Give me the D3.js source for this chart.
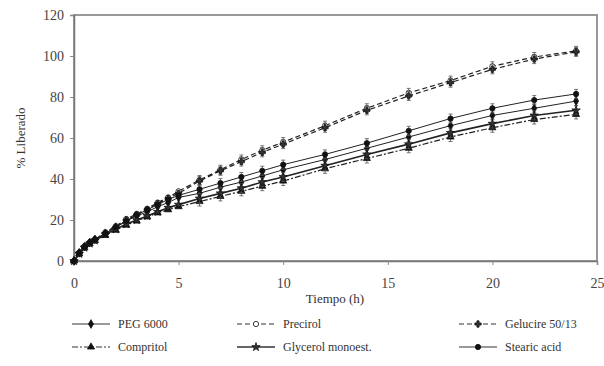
<!DOCTYPE html>
<html>
<head>
<meta charset="utf-8">
<script src="https://cdn.jsdelivr.net/npm/d3@7"></script>
<style>
  body { margin: 0; background: #fff; }
  svg { display: block; font-family: "Liberation Serif", "DejaVu Serif", serif; }
</style>
</head>
<body>
<svg id="chart" width="604" height="366"></svg>
<script>
// sampling times (h)
const times = [0, 0.25, 0.5, 0.75, 1, 1.5, 2, 2.5, 3, 3.5, 4, 4.5, 5, 6, 7, 8, 9, 10, 12, 14, 16, 18, 20, 22, 24];

// % released
const peg6000   = [0, 4, 7, 9, 10.5, 13.5, 16.5, 19.5, 22, 24, 26.5, 28.5, 31, 33, 36, 38.5, 41.5, 44.5, 49.5, 55, 60.5, 66, 71, 74.5, 78];
const precirol  = [0, 4, 7, 9, 10.5, 14, 17, 20.5, 23, 25.5, 28.5, 31, 34, 39.5, 44.5, 49.5, 54, 58, 66, 74.5, 82, 88, 95, 99.5, 102.5];
const gelucire  = [0, 4, 7, 9, 10.5, 13.5, 16.5, 20, 22.5, 25, 28, 30.5, 33, 39, 44, 48.5, 53, 57, 65, 73.5, 80.5, 87, 93.5, 98.5, 102];
const compritol = [0, 3.5, 6.5, 8.5, 10, 12.5, 15, 17.5, 19.5, 21.5, 23.5, 25, 26.5, 29, 31.5, 34, 36.5, 39, 45, 50, 55, 60.5, 65, 69, 71.5];
const glycerol  = [0, 3.5, 6.5, 8.5, 10, 13, 15.5, 18, 20, 22, 24, 26, 27.5, 30.5, 33, 35.5, 38.5, 41, 46.5, 52, 57, 62.5, 67, 71, 73.5];
const stearic   = [0, 4, 7, 9, 10.5, 13.5, 16.5, 19.5, 22.5, 25, 27.5, 30, 32, 35, 38, 41, 44, 47, 52, 57.5, 63.5, 69.5, 74.5, 78.5, 81.5];

const seriesNames = ["PEG 6000", "Precirol", "Gelucire 50/13", "Compritol", "Glycerol monoest.", "Stearic acid"];
const seriesValues = [peg6000, precirol, gelucire, compritol, glycerol, stearic];
const xTicks = [0, 5, 10, 15, 20, 25];
const yTicks = [0, 20, 40, 60, 80, 100, 120];

// line / marker styling per series
const styles = [
  { dash: null, width: 1, marker: d3.symbolDiamond, fill: "#111" },
  { dash: "5,3", width: 1.2, marker: d3.symbolCircle, fill: "#fff" },
  { dash: "5,3", width: 1.2, marker: d3.symbolCross, fill: "#333" },
  { dash: "6,2,2,2", width: 1.2, marker: d3.symbolTriangle, fill: "#111" },
  { dash: null, width: 1.6, marker: d3.symbolStar, fill: "#333" },
  { dash: null, width: 1, marker: d3.symbolCircle, fill: "#111" }
];

const svg = d3.select("#chart");
const margin = { left: 74, right: 7, top: 15, bottom: 105 };
const W = 604, H = 366;

const x = d3.scaleLinear().domain([0, 25]).range([margin.left, W - margin.right]);
const y = d3.scaleLinear().domain([0, 120]).range([H - margin.bottom, margin.top]);

// plot frame
svg.append("rect")
  .attr("x", x(0)).attr("y", y(120))
  .attr("width", x(25) - x(0)).attr("height", y(0) - y(120))
  .attr("fill", "none").attr("stroke", "#999").attr("stroke-width", 2);

// axes
const xAxis = svg.append("g")
  .attr("transform", `translate(0,${y(0)})`)
  .call(d3.axisBottom(x).tickValues(xTicks).tickSize(4).tickPadding(13));
const yAxis = svg.append("g")
  .attr("transform", `translate(${x(0)},0)`)
  .call(d3.axisLeft(y).tickValues(yTicks).tickSize(4).tickPadding(6));

[xAxis, yAxis].forEach(g => {
  g.select(".domain").attr("stroke", "#777").attr("stroke-width", 1.5);
  g.selectAll(".tick line").attr("stroke", "#888");
  g.selectAll(".tick text").attr("fill", "#444")
    .style("font-family", "Liberation Serif").style("font-size", "14px");
});

svg.append("text")
  .attr("x", 335).attr("y", 303)
  .attr("text-anchor", "middle")
  .attr("fill", "#333").style("font-size", "13px")
  .text("Tiempo (h)");

svg.append("text")
  .attr("transform", `translate(25,${y(60)}) rotate(-90)`)
  .attr("text-anchor", "middle")
  .attr("fill", "#333").style("font-size", "13px")
  .text("% Liberado");

const line = d3.line()
  .x((d, i) => x(times[i]))
  .y(d => y(d));

// error bars are small, drawn as short vertical strokes with caps
const errSize = 2.2;

seriesValues.forEach((vals, s) => {
  const st = styles[s];
  const g = svg.append("g");
  g.append("path")
    .datum(vals)
    .attr("d", line)
    .attr("fill", "none")
    .attr("stroke", "#222")
    .attr("stroke-width", st.width)
    .attr("stroke-dasharray", st.dash);

  const pts = g.selectAll(".pt")
    .data(vals.map((v, i) => ({ t: times[i], v })))
    .enter().append("g")
    .attr("transform", d => `translate(${x(d.t)},${y(d.v)})`);

  pts.filter(d => d.t >= 6).append("path")
    .attr("d", `M0,${-y(0) + y(errSize)}V${y(0) - y(errSize)}M-2,${-y(0) + y(errSize)}H2M-2,${y(0) - y(errSize)}H2`)
    .attr("stroke", "#555").attr("stroke-width", 0.8).attr("fill", "none");

  pts.append("path")
    .attr("d", d3.symbol().type(st.marker).size(22))
    .attr("fill", st.fill)
    .attr("stroke", "#111")
    .attr("stroke-width", 0.8);
});

// legend: 2 rows x 3 columns
const legCols = [72, 237, 459];
const legRows = [324, 347];
const legend = svg.append("g");
seriesNames.forEach((name, s) => {
  const st = styles[s];
  const lx = legCols[s % 3], ly = legRows[Math.floor(s / 3)];
  legend.append("line")
    .attr("x1", lx).attr("x2", lx + 38)
    .attr("y1", ly).attr("y2", ly)
    .attr("stroke", "#333")
    .attr("stroke-width", st.width)
    .attr("stroke-dasharray", st.dash);
  legend.append("path")
    .attr("transform", `translate(${lx + 19},${ly})`)
    .attr("d", d3.symbol().type(st.marker).size(22))
    .attr("fill", st.fill)
    .attr("stroke", "#111")
    .attr("stroke-width", 0.8);
  legend.append("text")
    .attr("x", lx + 46).attr("y", ly + 4)
    .attr("fill", "#333")
    .style("font-size", "12px")
    .text(name);
});
</script>
</body>
</html>
